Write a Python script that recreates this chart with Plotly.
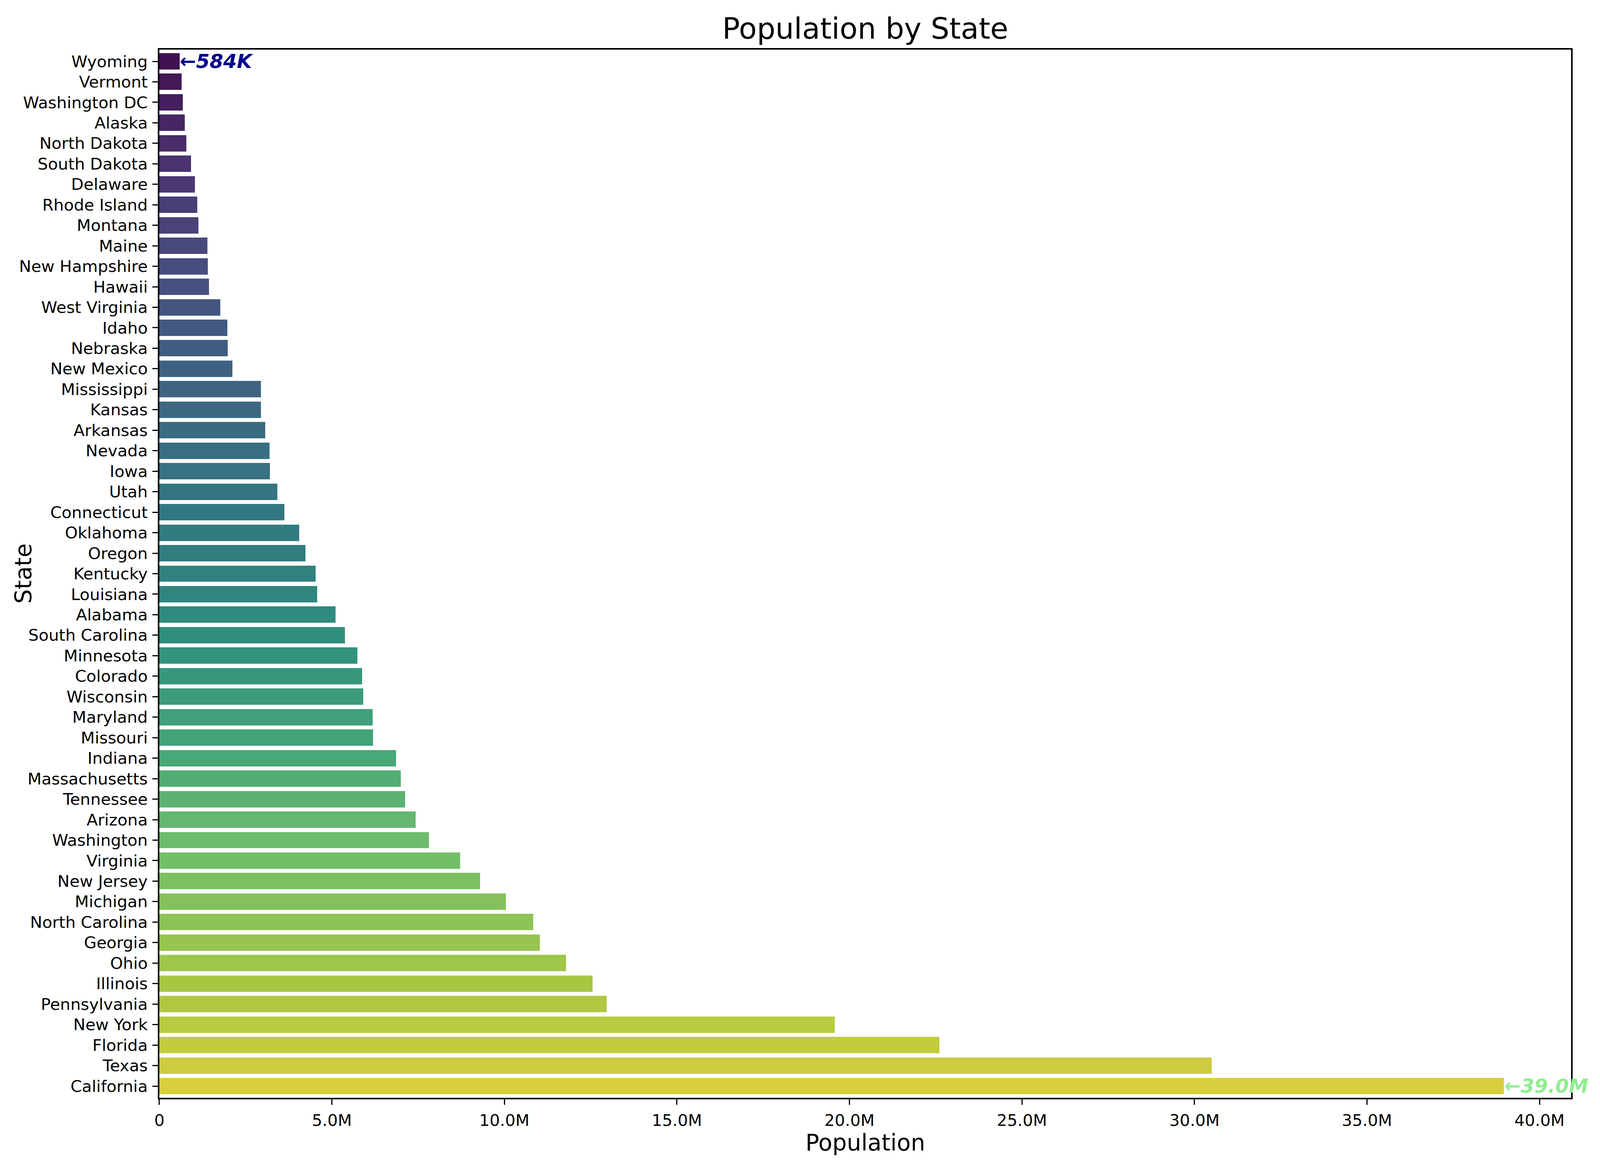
"""Population by State - horizontal bar chart (seaborn-style viridis bars)."""

import colorsys

import plotly.graph_objects as go
from plotly.colors import sample_colorscale, sequential, unlabel_rgb

# ============================================
# Data
# ============================================
states = [
    "Wyoming", "Vermont", "Washington DC", "Alaska", "North Dakota", "South Dakota",
    "Delaware", "Rhode Island", "Montana", "Maine", "New Hampshire", "Hawaii",
    "West Virginia", "Idaho", "Nebraska", "New Mexico", "Mississippi", "Kansas",
    "Arkansas", "Nevada", "Iowa", "Utah", "Connecticut", "Oklahoma", "Oregon",
    "Kentucky", "Louisiana", "Alabama", "South Carolina", "Minnesota", "Colorado",
    "Wisconsin", "Maryland", "Missouri", "Indiana", "Massachusetts", "Tennessee",
    "Arizona", "Washington", "Virginia", "New Jersey", "Michigan", "North Carolina",
    "Georgia", "Ohio", "Illinois", "Pennsylvania", "New York", "Florida", "Texas",
    "California",
]
population = [
    584057, 647464, 678972, 733406, 783926, 919318,
    1031890, 1095962, 1132812, 1395722, 1402054, 1435138,
    1770071, 1964726, 1978379, 2114371, 2939690, 2940546,
    3067732, 3194176, 3207004, 3417734, 3617176, 4053824, 4233358,
    4526154, 4573749, 5108468, 5373555, 5737915, 5877610,
    5910955, 6180253, 6196156, 6862199, 7001399, 7126489,
    7431344, 7812880, 8715698, 9290841, 10037261, 10835491,
    11029227, 11785935, 12549689, 12961683, 19571216, 22610726, 30503301,
    38965193,
]
x_tick_values = [0, 5e6, 10e6, 15e6, 20e6, 25e6, 30e6, 35e6, 40e6]
x_tick_labels = ["0", "5.0M", "10.0M", "15.0M", "20.0M", "25.0M", "30.0M", "35.0M", "40.0M"]
min_label = "584K"
max_label = "39.0M"

# ============================================
# Colours: viridis palette, desaturated like seaborn barplot (0.75)
# ============================================
n = len(states)
positions = [(i + 1) / (n + 1) for i in range(n)]
colors = []
for c in sample_colorscale(sequential.Viridis, positions):
    r, g, b = (v / 255 for v in unlabel_rgb(c))
    h, l, s = colorsys.rgb_to_hls(r, g, b)
    r, g, b = colorsys.hls_to_rgb(h, l, s * 0.75)
    colors.append(f"rgb({r * 255:.0f},{g * 255:.0f},{b * 255:.0f})")

FONT = "DejaVu Sans"
PT = 300 / 72  # matplotlib points -> pixels at 300 dpi
W, H = 4800, 3000  # reference canvas, used to express the axes box as fractions

fig = go.Figure()
fig.add_trace(
    go.Bar(
        x=population,
        y=states,
        orientation="h",
        width=0.8,
        marker=dict(color=colors, line=dict(width=0)),
        showlegend=False,
    )
)

# min / max labels
i_min = population.index(min(population))
i_max = population.index(max(population))
for idx, txt, col in [(i_min, min_label, "#00008b"), (i_max, max_label, "#90ee90")]:
    fig.add_annotation(
        x=population[idx],
        y=states[idx],
        text="\u2190" + txt,
        showarrow=False,
        xanchor="left",
        yanchor="middle",
        borderpad=0,
        font=dict(family=FONT, size=12 * PT, color=col, weight="bold", style="italic"),
    )

# Title and axis labels as paper annotations
fig.add_annotation(
    text="Population by State", xref="x domain", yref="paper", x=0.5, y=1 - 73 / H,
    showarrow=False, xanchor="center", yanchor="middle",
    font=dict(family=FONT, size=18 * PT, color="black"),
)
fig.add_annotation(
    text="Population", xref="x domain", yref="paper", x=0.5, y=1 - 2925 / H,
    showarrow=False, xanchor="center", yanchor="middle",
    font=dict(family=FONT, size=14 * PT, color="black"),
)
fig.add_annotation(
    text="State", xref="paper", yref="y domain", x=70 / W, y=0.5, textangle=-90,
    showarrow=False, xanchor="center", yanchor="middle",
    font=dict(family=FONT, size=14 * PT, color="black"),
)

axis_common = dict(
    showline=True,
    linecolor="black",
    linewidth=3.5,
    mirror=True,
    ticks="outside",
    ticklen=3.5 * PT,
    tickwidth=0.8 * PT,
    tickcolor="black",
    showgrid=False,
    zeroline=False,
    automargin=False,
    tickfont=dict(family=FONT, size=10 * PT, color="black"),
)

fig.update_xaxes(
    **axis_common,
    domain=[478 / W, 4713 / W],
    range=[0, max(population) * 1.05],
    tickvals=x_tick_values,
    ticktext=x_tick_labels,
    ticklabelstandoff=4,
)
fig.update_yaxes(
    **axis_common,
    domain=[1 - 2810 / H, 1 - 127 / H],
    type="category",
    autorange="reversed",
    ticklabelstandoff=3,
)

fig.update_layout(
    template="none",
    autosize=True,
    margin=dict(l=0, r=0, t=0, b=0, pad=0, autoexpand=False),
    plot_bgcolor="white",
    paper_bgcolor="white",
    bargap=0,
    font=dict(family=FONT, color="black"),
)

fig.write_html(
    "out.html",
    default_width="100%",
    default_height="100vh",
    config={"displayModeBar": False},
    post_script=(
        "document.body.style.margin='0';"
        "document.documentElement.style.overflow='hidden';"
        "Plotly.Plots.resize(document.getElementById('{plot_id}'));"
    ),
)
